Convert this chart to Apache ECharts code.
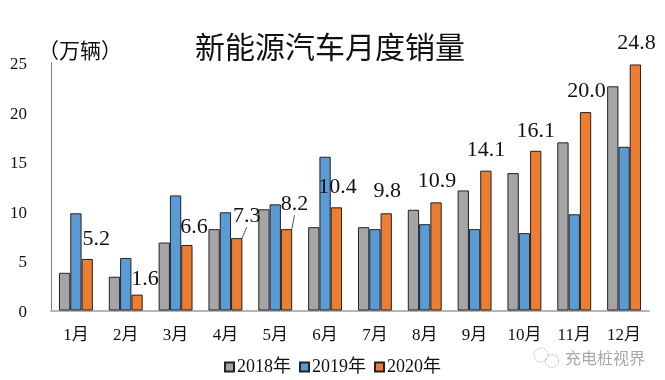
<!DOCTYPE html>
<html>
<head>
<meta charset="utf-8">
<title>新能源汽车月度销量</title>
<script src="https://cdn.jsdelivr.net/npm/echarts@6/dist/echarts.min.js"></script>
<style>
  html, body { margin: 0; padding: 0; background: #fff; }
  #chart { width: 665px; height: 380px; }
</style>
</head>
<body>
<div id="chart"></div>
<script>
const months = ['1月', '2月', '3月', '4月', '5月', '6月', '7月', '8月', '9月', '10月', '11月', '12月']
const sales2018 = [3.8, 3.4, 6.85, 8.2, 10.2, 8.4, 8.4, 10.15, 12.1, 13.85, 16.95, 22.6]
const sales2019 = [9.8, 5.3, 11.6, 9.9, 10.7, 15.5, 8.2, 8.7, 8.2, 7.8, 9.7, 16.5]
const sales2020 = [5.2, 1.6, 6.6, 7.3, 8.2, 10.4, 9.8, 10.9, 14.1, 16.1, 20.0, 24.8]

// where each 2020 label sits relative to its default spot above the bar
const labelShift = [[9, -4], [8, 1], [7, -2], [10, -6], [8, -9], [1, -4.5], [1, -6], [1, -5], [0, -4], [0, -4], [1, -5], [1, -5]]
const leaderMonths = ['4月', '5月']

const serif = '"Liberation Serif", "Noto Sans CJK SC", serif'
const barBorder = { borderColor: '#222', borderWidth: 1 }

const chart = echarts.init(document.getElementById('chart'))

chart.setOption({
  animation: false,
  backgroundColor: '#fff',
  title: {
    text: '新能源汽车月度销量',
    left: 325,
    top: 27,
    textAlign: 'center',
    textStyle: { color: '#111', fontSize: 30, fontWeight: 'normal', fontFamily: '"Noto Sans CJK SC", serif' }
  },
  legend: {
    data: ['2018年', '2019年', '2020年'],
    icon: 'rect',
    left: 224,
    top: 358,
    padding: 0,
    itemWidth: 9,
    itemHeight: 9,
    itemGap: 8,
    textStyle: { color: '#111', fontSize: 18, fontFamily: serif, padding: [0, 0, 0, -2] }
  },
  grid: { left: 51, right: 16, top: 62.5, bottom: 69.5 },
  xAxis: {
    type: 'category',
    data: months,
    axisLine: { lineStyle: { color: '#b5b5b5', width: 2 } },
    axisTick: { show: false },
    axisLabel: { color: '#111', fontSize: 17, fontFamily: serif, margin: 17 }
  },
  yAxis: {
    type: 'value',
    min: 0,
    max: 25,
    interval: 5,
    name: '（万辆）',
    nameLocation: 'end',
    nameGap: 2,
    nameTextStyle: { color: '#111', fontSize: 21, fontFamily: '"Noto Sans CJK SC", serif', align: 'left', padding: [0, 0, 0, -13] },
    axisLine: { show: true, lineStyle: { color: '#7f7f7f', width: 1 } },
    axisTick: { show: false },
    splitLine: { show: false },
    axisLabel: { color: '#111', fontSize: 17, fontFamily: serif, margin: 24, verticalAlign: 'top', lineHeight: 17, padding: [-6.5, 0, 0, 0] }
  },
  series: [
    {
      name: '2018年',
      type: 'bar',
      barWidth: 11.3,
      barGap: 0,
      data: sales2018,
      itemStyle: { color: '#a5a5a5', ...barBorder }
    },
    {
      name: '2019年',
      type: 'bar',
      barWidth: 11.3,
      barGap: 0,
      data: sales2019,
      itemStyle: { color: '#5b9bd5', ...barBorder }
    },
    {
      name: '2020年',
      type: 'bar',
      barWidth: 11.3,
      barGap: 0,
      data: sales2020.map((value, i) => ({
        value,
        labelLine: { show: leaderMonths.includes(months[i]), lineStyle: { color: '#555', width: 1 } }
      })),
      itemStyle: { color: '#ed7d31', ...barBorder },
      label: {
        show: true,
        position: 'top',
        color: '#111',
        fontSize: 22,
        fontFamily: '"Liberation Serif", serif',
        formatter: params => params.value.toFixed(1)
      },
      labelLayout: params => ({ dx: labelShift[params.dataIndex][0], dy: labelShift[params.dataIndex][1] })
    }
  ],
  graphic: [
    { type: 'text', left: 565, top: 350, silent: true, style: { text: '充电桩视界', fill: '#a8a8a8', fontSize: 16, fontFamily: '"Noto Sans CJK SC", sans-serif' } },
    { type: 'circle', silent: true, shape: { cx: 541, cy: 355, r: 7 }, style: { fill: 'none', stroke: '#c4c4c4', lineWidth: 1, lineDash: [2, 1] } },
    { type: 'circle', silent: true, shape: { cx: 552, cy: 361, r: 6.5 }, style: { fill: 'none', stroke: '#c4c4c4', lineWidth: 1, lineDash: [2, 1] } }
  ]
})
</script>
</body>
</html>
